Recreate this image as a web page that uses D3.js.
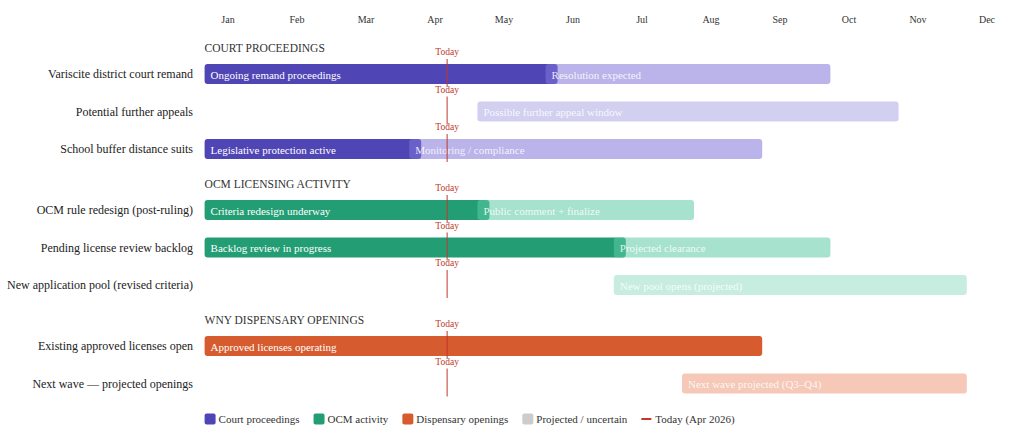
<!DOCTYPE html>
<html>
<head>
<meta charset="utf-8">
<script src="https://cdn.jsdelivr.net/npm/d3@7"></script>
<style>
  html, body { margin: 0; padding: 0; background: #fff; }
  svg { display: block; }
  svg text { font-family: "Liberation Serif", "Times New Roman", Times, serif; }
</style>
</head>
<body>
<svg id="chart" width="1024" height="434"></svg>
<script>
// ---- data ----
const months = ["Jan","Feb","Mar","Apr","May","Jun","Jul","Aug","Sep","Oct","Nov","Dec"];
const groups = ["COURT PROCEEDINGS", "OCM LICENSING ACTIVITY", "WNY DISPENSARY OPENINGS"];
const rows = [
  "Variscite district court remand",
  "Potential further appeals",
  "School buffer distance suits",
  "OCM rule redesign (post-ruling)",
  "Pending license review backlog",
  "New application pool (revised criteria)",
  "Existing approved licenses open",
  "Next wave \u2014 projected openings"
];
const rowGroup = [0, 0, 0, 1, 1, 1, 2, 2];
// segments (month index: 0 = start of Jan)
const segRow   = [0, 0, 1, 2, 2, 3, 3, 4, 4, 5, 6, 7];
const segStart = [0, 5, 4, 0, 3, 0, 4, 0, 6, 6, 0, 7];
const segEnd   = [5, 9, 10, 3, 8, 4, 7, 6, 9, 11, 8, 11];
const segKind  = ["active","projected","uncertain","active","projected","active","projected","active","projected","uncertain","active","projected"];
const segLabel = [
  "Ongoing remand proceedings", "Resolution expected",
  "Possible further appeal window",
  "Legislative protection active", "Monitoring / compliance",
  "Criteria redesign underway", "Public comment + finalize",
  "Backlog review in progress", "Projected clearance",
  "New pool opens (projected)",
  "Approved licenses operating",
  "Next wave projected (Q3\u2013Q4)"
];
const todayMonth = 3.38;
const legendLabels = ["Court proceedings", "OCM activity", "Dispensary openings", "Projected / uncertain", "Today (Apr 2026)"];

// ---- styles ----
const FONT = "'Liberation Serif', 'Times New Roman', Times, serif";
const solidColors = ["#5045b5", "#229d74", "#d65b2e"];
const lightColors = ["#8176d8", "#5ccaa4", "#ec9a7c"];
const kindOpacity = { projected: 0.55, uncertain: 0.35 };
const todayColor = "#c0392b";

const svg = d3.select("#chart").attr("font-family", FONT);

const x = d3.scaleLinear().domain([0, 11]).range([216.6, 966.8]);
const pad = 12;
const monthX = d3.scalePoint().domain(months).range([228, 987]);

const rowStep = 37.5, groupGap = 23.5, firstRow = 74, barH = 20;
const yRow = i => {
  const g = rowGroup[i];
  const within = rows.slice(0, i).filter((_, j) => rowGroup[j] === g).length;
  return firstRow + g * (3 * rowStep + groupGap) + within * rowStep;
};
const groupFirstRow = groups.map((_, g) => rowGroup.indexOf(g));

// month labels
svg.append("g").selectAll("text").data(months).join("text")
  .attr("x", d => monthX(d)).attr("y", 19)
  .attr("text-anchor", "middle").attr("dominant-baseline", "central")
  .attr("font-family", FONT)
  .attr("font-size", 10).attr("fill", "#333").text(d => d);

// group headers
svg.append("g").selectAll("text").data(groups).join("text")
  .attr("x", x(0) - pad).attr("y", (d, g) => yRow(groupFirstRow[g]) - 26)
  .attr("dominant-baseline", "central")
  .attr("font-family", FONT)
  .attr("font-size", 11.5).attr("fill", "#333").text(d => d);

// row labels
svg.append("g").selectAll("text").data(rows).join("text")
  .attr("x", 193).attr("y", (d, i) => yRow(i))
  .attr("text-anchor", "end").attr("dominant-baseline", "central")
  .attr("font-family", FONT)
  .attr("font-size", 12).attr("fill", "#222").text(d => d);

// segments
const segs = segRow.map((r, i) => ({ r, s: segStart[i], e: segEnd[i], k: segKind[i], label: segLabel[i] }));
const order = segs.slice().sort((a, b) => (a.k === "active" ? 0 : 1) - (b.k === "active" ? 0 : 1));
const bars = svg.append("g");
bars.selectAll("rect").data(order).join("rect")
  .attr("x", d => x(d.s) - pad)
  .attr("width", d => x(d.e) - x(d.s) + pad)
  .attr("y", d => yRow(d.r) - barH / 2)
  .attr("height", barH)
  .attr("rx", 3)
  .attr("fill", d => d.k === "active" ? solidColors[rowGroup[d.r]] : lightColors[rowGroup[d.r]])
  .attr("opacity", d => d.k === "active" ? 1 : kindOpacity[d.k]);
bars.selectAll("text").data(order).join("text")
  .attr("x", d => x(d.s) - pad + 6)
  .attr("y", d => yRow(d.r) + 0.5)
  .attr("dominant-baseline", "central")
  .attr("font-family", FONT)
  .attr("font-size", 11).attr("font-weight", 500)
  .attr("fill", "#fff")
  .attr("fill-opacity", d => d.k === "active" ? 1 : 0.85)
  .text(d => d.label);

// today markers per row
const tg = svg.append("g");
tg.selectAll("line").data(rows).join("line")
  .attr("x1", x(todayMonth)).attr("x2", x(todayMonth))
  .attr("y1", (d, i) => yRow(i) - 15).attr("y2", (d, i) => yRow(i) + 13)
  .attr("stroke", todayColor).attr("stroke-width", 1);
tg.selectAll("text").data(rows).join("text")
  .attr("x", x(todayMonth)).attr("y", (d, i) => yRow(i) - 22)
  .attr("text-anchor", "middle").attr("dominant-baseline", "central")
  .attr("font-family", FONT)
  .attr("font-size", 9.5).attr("fill", todayColor).text("Today");

// legend
const lg = svg.append("g");
const legendY = 419;
const swatch = [solidColors[0], solidColors[1], solidColors[2], "#cccccc", null];
let lx = x(0) - pad;
legendLabels.forEach((lab, i) => {
  if (swatch[i]) {
    lg.append("rect").attr("x", lx).attr("y", legendY - 5.5).attr("width", 11).attr("height", 11)
      .attr("rx", 2).attr("fill", swatch[i]);
  } else {
    lg.append("line").attr("x1", lx).attr("x2", lx + 10).attr("y1", legendY).attr("y2", legendY)
      .attr("stroke", todayColor).attr("stroke-width", 2);
  }
  const t = lg.append("text").attr("x", lx + 14).attr("y", legendY)
    .attr("dominant-baseline", "central").attr("font-family", FONT)
    .attr("font-size", 11).attr("fill", "#333").text(lab);
  lx += 14 + t.node().getComputedTextLength() + 14;
});
</script>
</body>
</html>
